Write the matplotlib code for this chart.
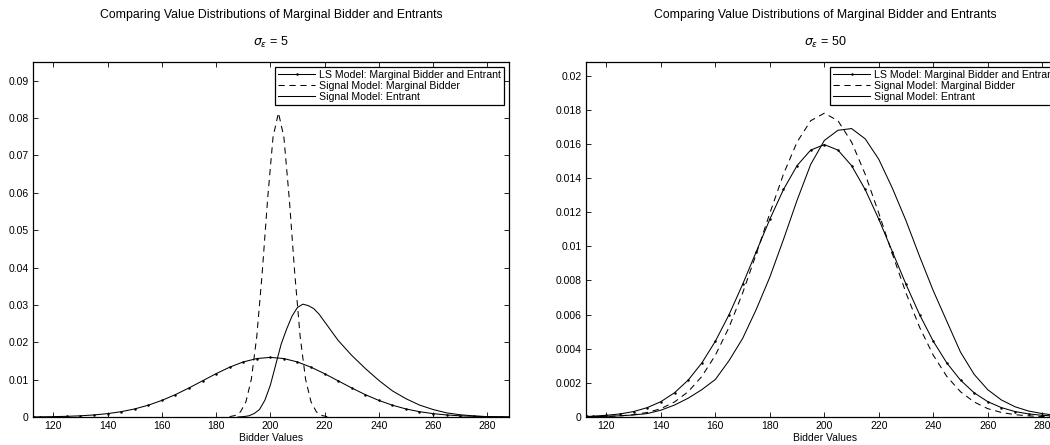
import numpy as np
import matplotlib
matplotlib.use("Agg")
import matplotlib.pyplot as plt

plt.rcParams['font.family'] = ['Liberation Sans', 'DejaVu Sans']
plt.rcParams['mathtext.fontset'] = 'dejavusans'

# LS model: marginal bidder and entrant (same curve in both panels)
ls_x = [113, 115, 120, 125, 130, 135, 140, 145, 150, 155, 160, 165, 170, 175, 180,
        185, 190, 195, 200, 205, 210, 215, 220, 225, 230, 235, 240, 245, 250, 255,
        260, 265, 270, 275, 280, 285, 288]
ls_y = [0.00003, 0.00005, 0.0001, 0.00018, 0.00032, 0.00055, 0.0009, 0.00142, 0.00216,
        0.00316, 0.00444, 0.00599, 0.00777, 0.00968, 0.01159, 0.01333, 0.01473, 0.01564,
        0.01596, 0.01564, 0.01473, 0.01333, 0.01159, 0.00968, 0.00777, 0.00599, 0.00444,
        0.00316, 0.00216, 0.00142, 0.0009, 0.00055, 0.00032, 0.00018, 0.0001, 0.00005,
        0.00003]

# sigma_eps = 5
sig5_mb_x = [185, 187, 189, 191, 193, 195, 197, 199, 201, 203, 205, 207, 209, 211,
             213, 215, 217, 219, 221]
sig5_mb_y = [0.0001, 0.0004, 0.00137, 0.00405, 0.0101, 0.0215, 0.0385, 0.0583, 0.0749,
             0.0814, 0.0749, 0.0583, 0.0385, 0.0215, 0.0101, 0.00405, 0.00137, 0.0004,
             0.0001]
sig5_en_x = [188, 190, 192, 194, 196, 198, 200, 202, 204, 206, 208, 210, 212, 214, 216,
             218, 220, 222, 225, 230, 235, 240, 245, 250, 255, 260, 265, 270, 275, 280,
             285, 288]
sig5_en_y = [0.0, 0.0001, 0.0003, 0.0009, 0.002, 0.0045, 0.0085, 0.014, 0.0195, 0.0235,
             0.027, 0.0293, 0.0302, 0.0298, 0.029, 0.0275, 0.0255, 0.0235, 0.0205, 0.0165,
             0.013, 0.0098, 0.007, 0.0049, 0.0032, 0.002, 0.0011, 0.0006, 0.0003, 0.0001,
             0.00003, 0.00001]

# sigma_eps = 50
sig50_x = [113, 115, 120, 125, 130, 135, 140, 145, 150, 155, 160, 165, 170, 175, 180,
           185, 190, 195, 200, 205, 210, 215, 220, 225, 230, 235, 240, 245, 250, 255,
           260, 265, 270, 275, 280, 285, 288]
sig50_mb_y = [0.00001, 0.000013, 0.00003, 0.000066, 0.000136, 0.000266, 0.00049, 0.00088,
              0.00148, 0.00237, 0.00362, 0.00525, 0.00726, 0.00955, 0.01194, 0.01423,
              0.01611, 0.01736, 0.0178, 0.01736, 0.01611, 0.01423, 0.01194, 0.00955,
              0.00726, 0.00525, 0.00362, 0.00237, 0.00148, 0.00088, 0.00049, 0.000266,
              0.000136, 0.000066, 0.00003, 0.000013, 0.00001]
sig50_en_y = [0.00001, 0.00002, 0.00004, 0.00007, 0.00012, 0.0002, 0.0004, 0.0007, 0.0011,
              0.0016, 0.0022, 0.0033, 0.0046, 0.0063, 0.0082, 0.0104, 0.0127, 0.0148,
              0.0162, 0.0168, 0.0169, 0.0163, 0.0151, 0.0134, 0.0115, 0.0094, 0.0074,
              0.0056, 0.0038, 0.0025, 0.0016, 0.001, 0.0006, 0.00035, 0.0002, 0.0001,
              0.00007]

x_ticks = [120, 140, 160, 180, 200, 220, 240, 260, 280]
left_yticks = [0, 0.01, 0.02, 0.03, 0.04, 0.05, 0.06, 0.07, 0.08, 0.09]
left_ylabels = ['0', '0.01', '0.02', '0.03', '0.04', '0.05', '0.06', '0.07', '0.08', '0.09']
right_yticks = [0, 0.002, 0.004, 0.006, 0.008, 0.01, 0.012, 0.014, 0.016, 0.018, 0.02]
right_ylabels = ['0', '0.002', '0.004', '0.006', '0.008', '0.01', '0.012', '0.014',
                 '0.016', '0.018', '0.02']

main_title = 'Comparing Value Distributions of Marginal Bidder and Entrants'
labels = ['LS Model: Marginal Bidder and Entrant', 'Signal Model: Marginal Bidder',
          'Signal Model: Entrant']

W, H = 1050, 445
fig = plt.figure(figsize=(W / 100, H / 100), dpi=100)
top, bottom = 62, 417
ax1 = fig.add_axes([33 / W, 1 - bottom / H, 476 / W, (bottom - top) / H])
ax2 = fig.add_axes([586 / W, 1 - bottom / H, 478 / W, (bottom - top) / H])


def draw_panel(ax, mb_x, mb_y, en_x, en_y, yticks, ylabels, ymax, sig):
    lw = 0.75
    ax.plot(ls_x, ls_y, color='black', lw=lw, marker='.', markersize=1.6, label=labels[0])
    ax.plot(mb_x, mb_y, color='black', lw=lw, linestyle=(0, (6, 4.5)), label=labels[1])
    ax.plot(en_x, en_y, color='black', lw=lw, label=labels[2])
    ax.set_xlim(112.5, 288)
    ax.set_ylim(0, ymax)
    ax.set_xticks(x_ticks)
    ax.set_xticklabels([str(t) for t in x_ticks])
    ax.set_yticks(yticks)
    ax.set_yticklabels(ylabels)
    ax.tick_params(direction='in', length=3.5, width=0.6, labelsize=7.5,
                   top=True, right=True, pad=3)
    for sp in ax.spines.values():
        sp.set_linewidth(0.9)
    ax.set_xlabel('Bidder Values', fontsize=7.5, labelpad=1)

    # two title lines, placed in figure pixels
    pos = ax.get_position()
    cx = (pos.x0 + pos.x1) / 2
    fig.text(cx, 1 - 15 / H, main_title, ha='center', va='center', fontsize=8.8)
    fig.text(cx, 1 - 42 / H, r'$\sigma_{\varepsilon}$ = ' + sig, ha='center',
             va='center', fontsize=9)

    leg = ax.legend(loc='upper right', fontsize=7.6, frameon=True, fancybox=False,
                    edgecolor='black', framealpha=1, handlelength=3.5,
                    handletextpad=0.4, labelspacing=0.1, borderpad=0.25,
                    borderaxespad=0.5)
    leg.get_frame().set_linewidth(0.9)


draw_panel(ax1, sig5_mb_x, sig5_mb_y, sig5_en_x, sig5_en_y,
           left_yticks, left_ylabels, 0.095, '5')
draw_panel(ax2, sig50_x, sig50_mb_y, sig50_x, sig50_en_y,
           right_yticks, right_ylabels, 0.0208, '50')

fig.savefig('out.png', dpi=100)
